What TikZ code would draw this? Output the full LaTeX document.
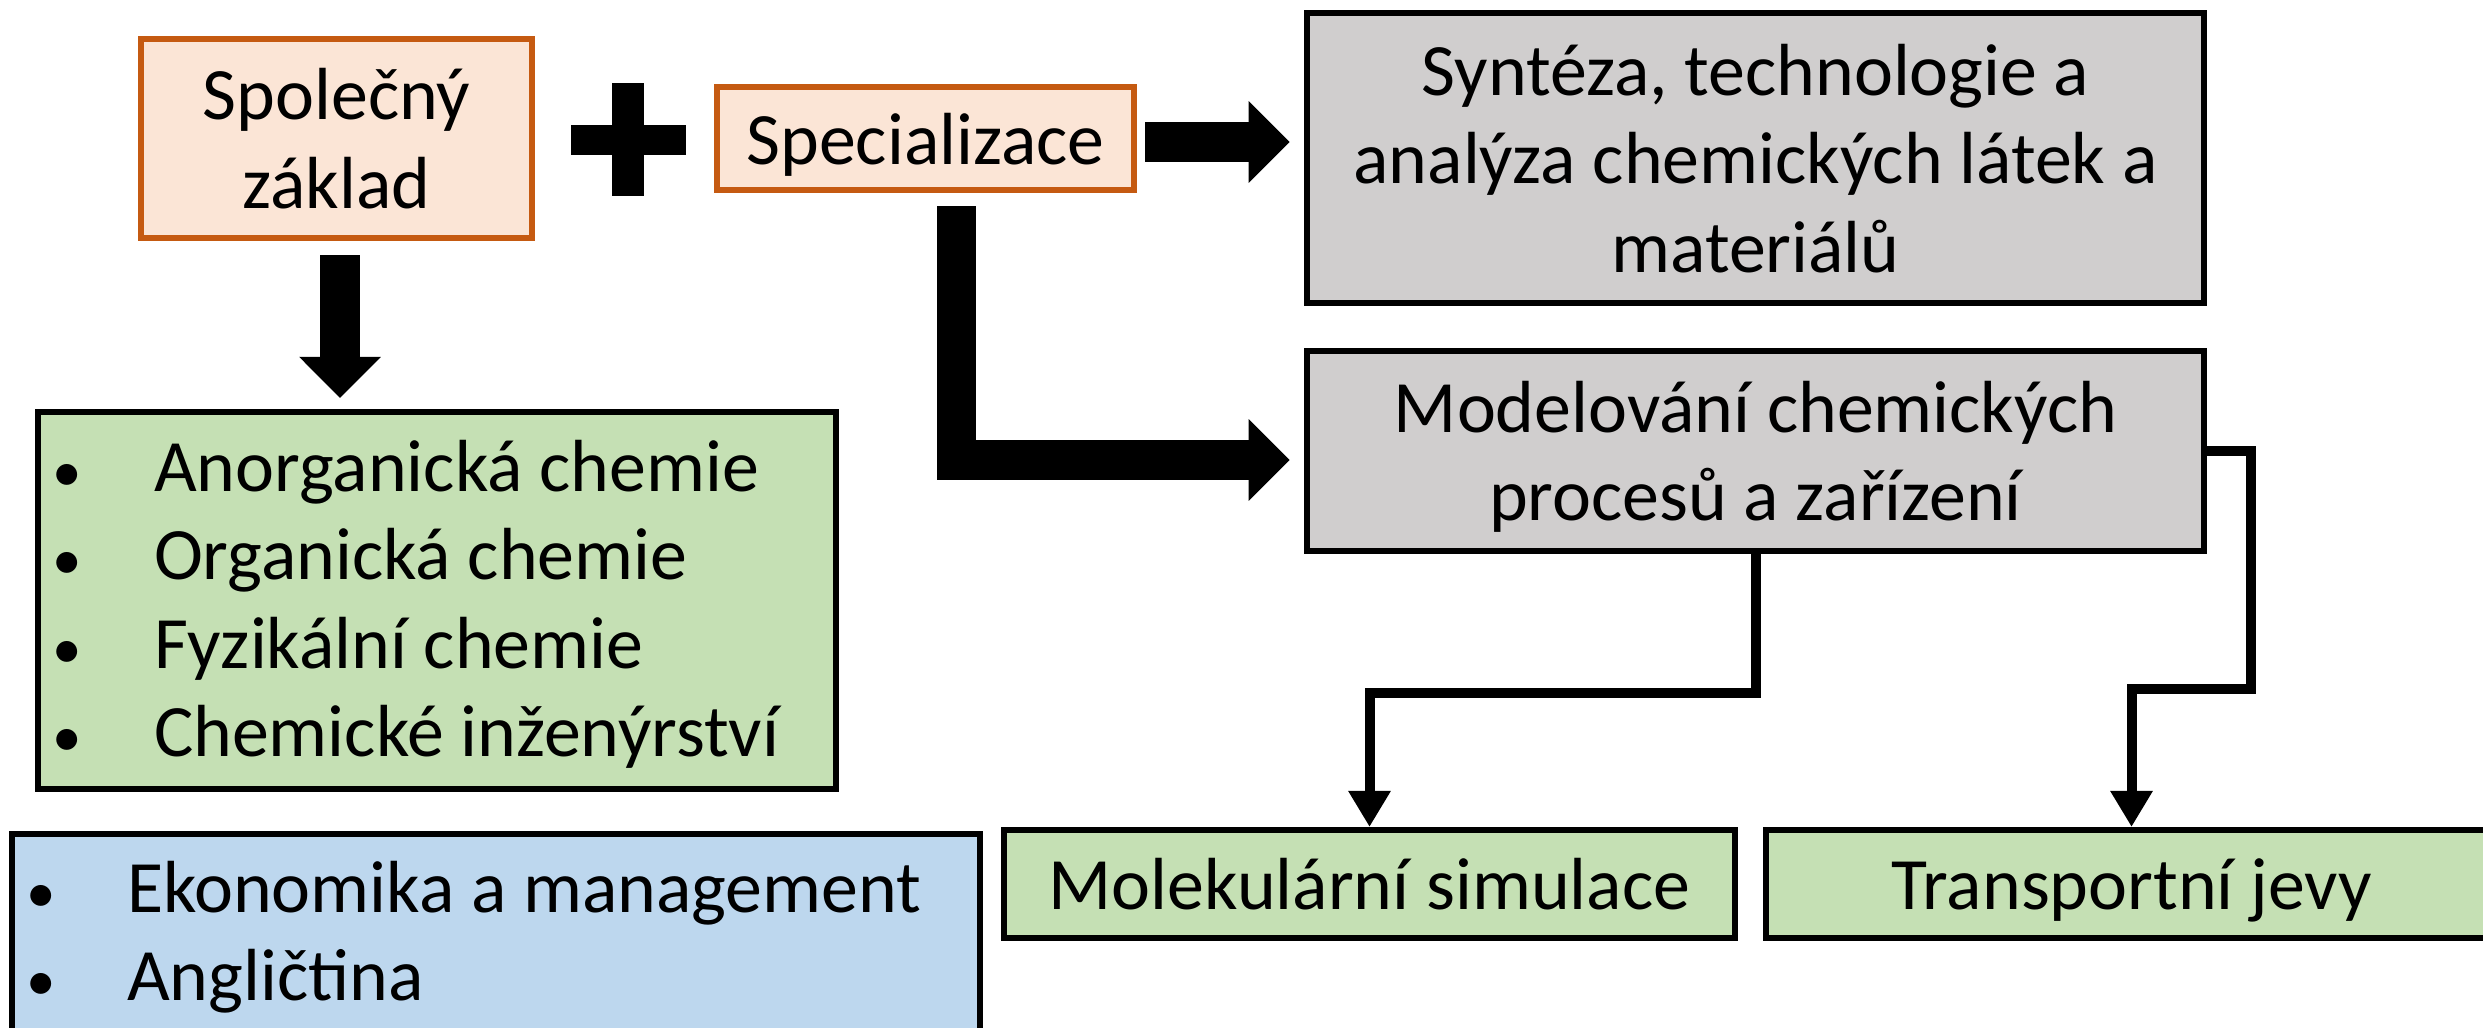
\documentclass[tikz,border=0pt]{standalone}
\usepackage{fontspec}
\setmainfont{Carlito}
\usepackage{xcolor}
\usetikzlibrary{arrows.meta, positioning, calc}
\definecolor{basefill}{HTML}{FBE5D6}
\definecolor{basedraw}{HTML}{C55A11}
\definecolor{trackgray}{HTML}{D0CECE}
\definecolor{topicgreen}{HTML}{C5E0B4}
\definecolor{extrablue}{HTML}{BDD7EE}
\newcommand{\listdot}[1]{\makebox[#1][l]{\scalebox{0.8}{•}}}

\begin{document}
\begin{tikzpicture}[
    x=0.01cm, y=-0.01cm,
    font=\fontsize{21}{25.2}\selectfont,
    basebox/.style={draw=basedraw, line width=0.06cm, fill=basefill, align=center, inner sep=0pt, text depth=0pt},
    trackbox/.style={draw, line width=0.06cm, fill=trackgray, align=center, inner sep=0pt, text depth=0pt},
    topicbox/.style={draw, line width=0.06cm, fill=topicgreen, align=center, inner sep=0pt, text depth=0pt},
    listbox/.style={draw, line width=0.06cm, align=flush left, inner ysep=0pt, inner xsep=0.14cm, anchor=north west},
    fatarrow/.style={line width=0.39cm, line join=miter, -{Triangle[width=0.79cm, length=0.41cm]}},
    thinarrow/.style={line width=0.1cm, line join=miter, -{Triangle[width=0.4cm, length=0.36cm]}},
]
\path[use as bounding box, clip] (0,0) rectangle (2483,1028);

% --- Common base + specialisation ---
\node[basebox, minimum width=3.91cm, minimum height=1.99cm] (common) at (336.5,138.5) {Společný\\základ};
\fill (612,83) rectangle (644,196);   % plus sign, vertical bar
\fill (571,125) rectangle (686,155);  % plus sign, horizontal bar
\node[basebox, minimum width=4.17cm, minimum height=1.03cm] (spec) at (925.5,138.5) {Specializace};

% --- Study tracks ---
\node[trackbox, minimum width=8.97cm, minimum height=2.9cm] (synt) at (1755.5,158) {Syntéza, technologie a\\analýza chemických látek a\\materiálů};
\node[trackbox, minimum width=8.97cm, minimum height=2.0cm] (model) at (1755.5,451) {Modelování chemických\\procesů a zařízení};

% --- Topics of the modelling track ---
\node[topicbox, minimum width=7.31cm, minimum height=1.08cm] (molek) at (1369.5,884) {Molekulární simulace};
\node[topicbox, minimum width=7.31cm, minimum height=1.08cm] (trans) at (2131.5,884) {Transportní jevy};

% --- Subject lists ---
\node[listbox, fill=topicgreen, text width=7.7cm] (basics) at (35,409)
  {\rule{0pt}{0.79cm}\listdot{1.02cm}Anorganická chemie\\
   \listdot{1.02cm}Organická chemie\\
   \listdot{1.02cm}Fyzikální chemie\\
   \listdot{1.02cm}Chemické inženýrství\rule[-0.32cm]{0pt}{0pt}};
\node[listbox, fill=extrablue, text width=9.39cm] (extra) at (9,831)
  {\rule{0pt}{0.78cm}\listdot{1.01cm}Ekonomika a management\\
   \listdot{1.01cm}Angličtina\rule[-0.8cm]{0pt}{0pt}};

% --- Block arrows ---
\draw[fatarrow, shorten <=0.08cm, shorten >=0.14cm] ([yshift=-0.035cm]spec.east) -- ([yshift=-0.035cm]spec.east -| synt.west);
\draw[fatarrow, shorten <=0.14cm, shorten >=0.11cm] ([xshift=0.035cm]common.south) -- ([xshift=0.035cm]common.south |- basics.north);
\draw[fatarrow, shorten <=0.13cm, shorten >=0.14cm] ([xshift=0.305cm]spec.south) |- ([yshift=-0.09cm]model.west);

% --- Connectors to the topics ---
\draw[thinarrow] (model.south) -- ++(0,139) -| (molek.north);
\draw[thinarrow] (model.east) -- ++(44,0) -- ++(0,238) -| (trans.north);

\end{tikzpicture}
\end{document}
